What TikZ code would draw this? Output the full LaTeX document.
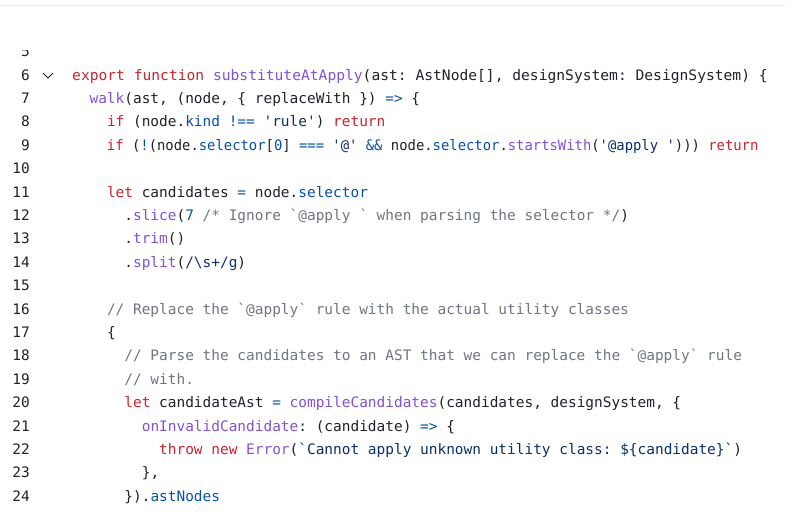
\documentclass[tikz,border=0pt]{standalone}
\usepackage{fontspec}
\setmonofont{DejaVu Sans Mono}
\usepackage{xcolor}
\definecolor{kwc}{HTML}{CF222E}
\definecolor{fnc}{HTML}{8250DF}
\definecolor{prc}{HTML}{0550AE}
\definecolor{stc}{HTML}{0A3069}
\definecolor{cmc}{HTML}{6E7781}
\definecolor{txc}{HTML}{1F2328}
\newcommand\kw[1]{\textcolor{kwc}{#1}}
\newcommand\fn[1]{\textcolor{fnc}{#1}}
\newcommand\pr[1]{\textcolor{prc}{#1}}
\newcommand\st[1]{\textcolor{stc}{#1}}
\newcommand\cm[1]{\textcolor{cmc}{#1}}
\begin{document}
\begin{tikzpicture}[x=1pt,y=-1pt,
  code/.style={anchor=base west,inner sep=0,font=\ttfamily\fontsize{14.45}{16}\selectfont,text=txc},
  num/.style={anchor=base east,inner sep=0,font=\ttfamily\fontsize{14.45}{16}\selectfont,text=txc}]
\useasboundingbox (0,0) rectangle (800,515);
\fill[white] (0,0) rectangle (800,515);
\draw[black!8,line width=1pt] (0,5) -- (785,5);
\begin{scope}
\clip (0,50) rectangle (800,515);
\node[num] (n5) at (30,56.6) {5};
\end{scope}
\def\Y#1{80+23.4*(#1-6)}
\def\X#1{72+8.7*#1}
\foreach \n in {6,...,24}{\node[num] (n\n) at (30,{\Y{\n}}) {\n};}
\draw[txc,line width=0.8pt] (43,73) coordinate (c1) -- (48,78) -- (53,73);
\node[code,xscale=1.012] (l6) at ({\X0},{\Y6}) {\kw{export function} \fn{substituteAtApply}(ast: AstNode[], designSystem: DesignSystem) \{};
\node[code] (l7) at ({\X2},{\Y7}) {\fn{walk}(ast, (node, \{ replaceWith \}) \pr{=>} \{};
\node[code] (l8) at ({\X4},{\Y8}) {\kw{if} (node.\pr{kind} \pr{!==} \st{'rule'}) \kw{return}};
\node[code,xscale=0.96] (l9) at ({\X4},{\Y9}) {\kw{if} (\pr{!}(node.\pr{selector}[\pr{0}] \pr{===} \st{'@'} \pr{\&\&} node.\pr{selector}.\fn{startsWith}(\st{'@apply '}))) \kw{return}};
\node[code] (l11) at ({\X4},{\Y{11}}) {\kw{let} candidates \pr{=} node.\pr{selector}};
\node[code] (l12) at ({\X6},{\Y{12}}) {.\fn{slice}(\pr{7} \cm{/* Ignore `@apply ` when parsing the selector */})};
\node[code] (l13) at ({\X6},{\Y{13}}) {.\fn{trim}()};
\node[code] (l14) at ({\X6},{\Y{14}}) {.\fn{split}(\st{/\textbackslash s+/g})};
\node[code] (l16) at ({\X4},{\Y{16}}) {\cm{// Replace the `@apply` rule with the actual utility classes}};
\node[code] (l17) at ({\X4},{\Y{17}}) {\{};
\node[code] (l18) at ({\X6},{\Y{18}}) {\cm{// Parse the candidates to an AST that we can replace the `@apply` rule}};
\node[code] (l19) at ({\X6},{\Y{19}}) {\cm{// with.}};
\node[code] (l20) at ({\X6},{\Y{20}}) {\kw{let} candidateAst \pr{=} \fn{compileCandidates}(candidates, designSystem, \{};
\node[code] (l21) at ({\X8},{\Y{21}}) {\fn{onInvalidCandidate}: (candidate) \pr{=>} \{};
\node[code] (l22) at ({\X{10}},{\Y{22}}) {\kw{throw} \kw{new} \fn{Error}(\st{`Cannot apply unknown utility class: \$\{candidate\}`})};
\node[code] (l23) at ({\X8},{\Y{23}}) {\},};
\node[code] (l24) at ({\X6},{\Y{24}}) {\}).\pr{astNodes}};
\end{tikzpicture}
\end{document}
